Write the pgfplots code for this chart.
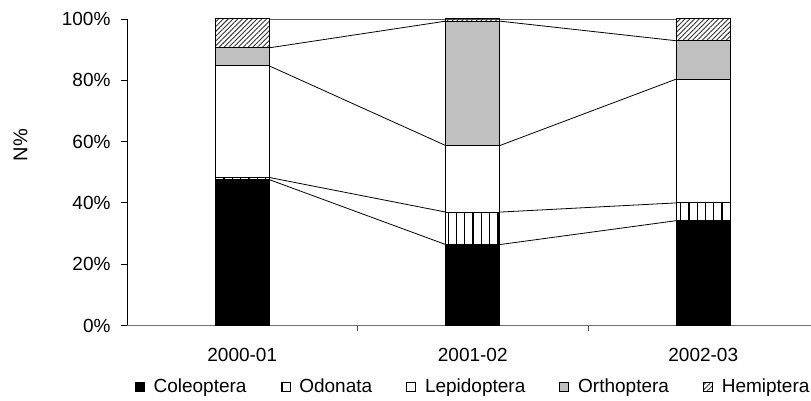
\documentclass[border=0pt]{standalone}
\usepackage{fontspec}
\setmainfont{Liberation Sans}
\usepackage{pgfplots}
\pgfplotsset{compat=1.18}
\usetikzlibrary{patterns.meta}
\definecolor{silverc}{HTML}{C0C0C0}
\begin{document}
\fontsize{19pt}{22pt}\selectfont
\begin{tikzpicture}
\path[use as bounding box] (0pt,0pt) rectangle (811pt,401pt);
% series lines (overlay axis)
\begin{axis}[at={(127pt,75.5pt)}, anchor=south west, scale only axis,
  width=684pt, height=306.5pt, xmin=-0.5, xmax=2.4675, ymin=0, ymax=100,
  hide axis, clip=false]
\addplot[black, line width=0.8pt] coordinates {(0.117,47.6) (0.883,26.4)};
\addplot[black, line width=0.8pt] coordinates {(1.117,26.4) (1.883,34.2)};
\addplot[black, line width=0.8pt] coordinates {(0.117,48.3) (0.883,37.0)};
\addplot[black, line width=0.8pt] coordinates {(1.117,37.0) (1.883,40.0)};
\addplot[black, line width=0.8pt] coordinates {(0.117,84.7) (0.883,58.7)};
\addplot[black, line width=0.8pt] coordinates {(1.117,58.7) (1.883,80.4)};
\addplot[black, line width=0.8pt] coordinates {(0.117,90.6) (0.883,99.3)};
\addplot[black, line width=0.8pt] coordinates {(1.117,99.3) (1.883,92.9)};
\addplot[black!65, line width=0.9pt] coordinates {(0.117,100) (1.883,100)};
\end{axis}
% stacked bars
\begin{axis}[at={(127pt,75.5pt)}, anchor=south west, scale only axis,
  width=684pt, height=306.5pt, xmin=-0.5, xmax=2.4675, ymin=0, ymax=100,
  clip=false,
  ybar stacked, bar width=54pt,
  every axis plot post/.append style={legend image code/.code={\draw[##1, line width=0.8pt, bar width=9pt] (0pt,-4.5pt) rectangle (9pt,4.5pt);}},
  axis lines*=left,
  x axis line style={draw=black!55, line width=0.9pt},
  y axis line style={draw=black, line width=0.9pt},
  tick align=outside, major tick length=6pt,
  tick style={line width=0.8pt},
  ytick={0,20,40,60,80,100},
  yticklabels={0\%,20\%,40\%,60\%,80\%,100\%},
  yticklabel style={xshift=-4pt},
  xtick={0.5,1.5}, xticklabels={},
  x tick style={draw=black!70},
  y tick style={draw=black},
  extra x ticks={0,1,2},
  extra x tick labels={2000-01,2001-02,2002-03},
  extra x tick style={major tick length=0pt, tick label style={yshift=-16pt}},
  /pgf/number format/assume math mode=true,
  ylabel={N\%},
  ylabel style={at={(axis description cs:-0.1557,0.589)}, anchor=center,
    font=\fontsize{20pt}{24pt}\selectfont},
  legend columns=5,
  legend style={draw=none, fill=none, at={(axis description cs:0.506,-0.2)}, anchor=center,
    /tikz/every even column/.append style={column sep=32pt},
    /tikz/every odd column/.append style={column sep=7pt}},
]
\addplot[fill=black, draw=black, line width=1pt] coordinates {(0,47.6) (1,26.4) (2,34.2)};
\addplot[fill=white, draw=black, line width=1pt, pattern={Lines[angle=90, distance=8.3pt, line width=1.3pt]}, pattern color=black] coordinates {(0,0.7) (1,10.6) (2,5.8)};
\addplot[fill=white, draw=black, line width=1pt] coordinates {(0,36.4) (1,21.7) (2,40.4)};
\addplot[fill=silverc, draw=black, line width=1pt] coordinates {(0,5.9) (1,40.6) (2,12.5)};
\addplot[fill=white, draw=black, line width=1pt, pattern={Lines[angle=45, distance=3.4pt, line width=0.9pt]}, pattern color=black!80] coordinates {(0,9.4) (1,0.7) (2,7.1)};
\legend{Coleoptera,Odonata,Lepidoptera,Orthoptera,Hemiptera}
\end{axis}
\end{tikzpicture}
\end{document}
